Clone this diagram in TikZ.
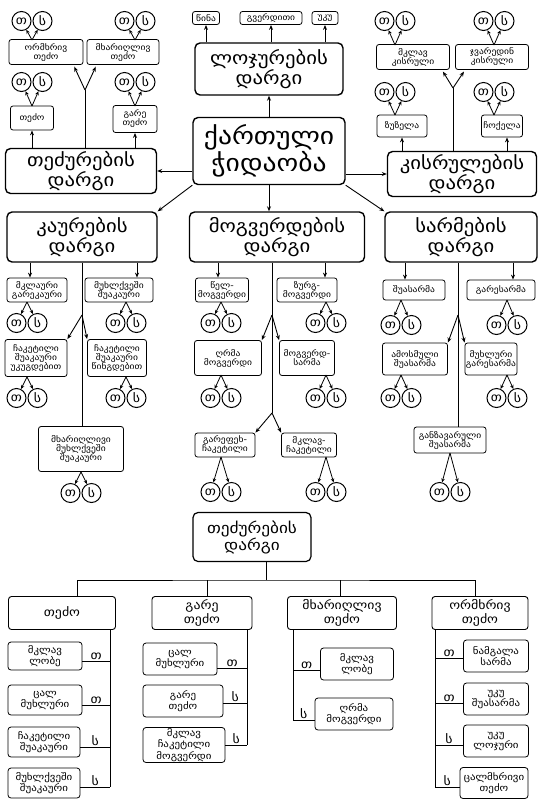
\documentclass[tikz,border=0pt]{standalone}
\usepackage{fontspec}
\setmainfont{DejaVu Sans}[FakeStretch=1.15]
\usetikzlibrary{arrows.meta}
\tikzset{
  dargi/.style={draw, line width=1.4pt, rounded corners=5pt, align=center,
    inner sep=0pt, font=\fontsize{18}{19.5}\selectfont},
  ilet/.style={draw, line width=0.8pt, rounded corners=2.5pt, align=center,
    inner sep=0pt, font=\fontsize{8.3}{9}\selectfont},
  nishani/.style={circle, draw, line width=1pt, minimum size=19pt,
    inner sep=0pt, font=\fontsize{12}{12}\selectfont},
  sveti/.style={draw, line width=0.9pt, rounded corners=3pt, align=center,
    inner sep=0pt, font=\fontsize{12}{12.5}\selectfont},
  qveda/.style={draw, line width=0.8pt, rounded corners=3pt, align=center,
    inner sep=0pt, font=\fontsize{9.5}{10}\selectfont},
  aso/.style={font=\fontsize{12}{12}\selectfont, inner sep=1pt}
}
\begin{document}
\begin{tikzpicture}[x=1pt, y=-1pt, line width=0.9pt,
    >={Stealth[length=5pt,width=4pt]}]
  \useasboundingbox (0,0) rectangle (541,807);
  \node[dargi, minimum width=152, minimum height=67,
    font=\fontsize{24}{27}\selectfont] (kartuli) at (269,151) {ქართული\\ჭიდაობა};
  \node[dargi, minimum width=148, minimum height=52] (lojur) at (269,69) {ლოჯურების\\დარგი};
  \node[dargi, minimum width=151, minimum height=45] (tedzur) at (81,171) {თეძურების\\დარგი};
  \node[dargi, minimum width=149, minimum height=45] (kisrul) at (462,174) {კისრულების\\დარგი};
  \node[dargi, minimum width=150, minimum height=50] (kaur) at (82,237) {კაურების\\დარგი};
  \node[dargi, minimum width=175, minimum height=50] (mogv) at (277,237) {მოგვერდების\\დარგი};
  \node[dargi, minimum width=152, minimum height=50] (sarm) at (461,237) {სარმების\\დარგი};

  \node[ilet, minimum width=27, minimum height=13] (wina) at (206,18) {წინა};
  \node[ilet, minimum width=62, minimum height=13] (gverd) at (271,18) {გვერდითი};
  \node[ilet, minimum width=26, minimum height=13] (uku) at (325,18) {უკუ};

  \node[ilet, minimum width=74, minimum height=25] (ormx) at (46,52) {ორმხრივ\\თეძო};
  \node[ilet, minimum width=72, minimum height=25] (mxar) at (123,52) {მხარიღლივ\\თეძო};
  \node[ilet, minimum width=43, minimum height=24] (tedzo) at (32,118) {თეძო};
  \node[ilet, minimum width=44, minimum height=27] (garet) at (135,119) {გარე\\თეძო};

  \node[ilet, minimum width=73, minimum height=25] (mklavk) at (413,57) {მკლავ\\კისრული};
  \node[ilet, minimum width=73, minimum height=25] (jvar) at (492,57) {ჯვარედინ\\კისრული};
  \node[ilet, minimum width=50, minimum height=22] (zuz) at (402,126) {ზუზელა};
  \node[ilet, minimum width=41, minimum height=22] (choq) at (502,126) {ჩოქელა};

  \node[ilet, minimum width=60, minimum height=24] (mklaur) at (37,290) {მკლაური\\გარეკაური};
  \node[ilet, minimum width=68, minimum height=24] (muxlk) at (119,290) {მუხლქვეში\\შუაკაური};
  \node[ilet, minimum width=62, minimum height=37] (chaku) at (36,358) {ჩაკეტილი\\შუაკაური\\უკუგდებით};
  \node[ilet, minimum width=59, minimum height=37] (chakw) at (117,358) {ჩაკეტილი\\შუაკაური\\წინგდებით};
  \node[ilet, minimum width=85, minimum height=45] (mxarm) at (81,449) {მხარიღლივი\\მუხლქვეში\\შუაკაური};

  \node[ilet, minimum width=53, minimum height=24] (welm) at (222,290) {წელ-\\მოგვერდი};
  \node[ilet, minimum width=60, minimum height=24] (zurgm) at (307,290) {ზურგ-\\მოგვერდი};
  \node[ilet, minimum width=67, minimum height=35] (ghrm) at (228,358) {ღრმა\\მოგვერდი};
  \node[ilet, minimum width=55, minimum height=35] (mogs) at (307,358) {მოგვერდ-\\სარმა};
  \node[ilet, minimum width=60, minimum height=24] (garef) at (225,445) {გარეფეხ-\\ჩაკეტილი};
  \node[ilet, minimum width=55, minimum height=24] (mklch) at (309,445) {მკლავ-\\ჩაკეტილი};

  \node[ilet, minimum width=62, minimum height=20] (shuas) at (414,290) {შუასარმა};
  \node[ilet, minimum width=68, minimum height=20] (gares) at (501,290) {გარესარმა};
  \node[ilet, minimum width=65, minimum height=32] (amos) at (415,359) {ამოსმული\\შუასარმა};
  \node[ilet, minimum width=52, minimum height=32] (muxls) at (491,359) {მუხლური\\გარესარმა};
  \node[ilet, minimum width=72, minimum height=26] (ganz) at (450,440) {განზავარული\\შუასარმა};

  \coordinate (fkA) at (85,90);
  \coordinate (fkB) at (453,88);
  \coordinate (kx) at (82,315);
  \coordinate (mx1) at (272,315);
  \coordinate (mx2) at (272,413);
  \coordinate (sx) at (458,315);

  \begin{scope}[->]
    \draw (kartuli.north) -- (lojur.south);
    \draw (kartuli.west |- tedzur) -- (tedzur.east);
    \draw (kartuli.east |- kisrul) -- (kisrul.west);
    \draw (kartuli.south) -- (kartuli.south |- mogv.north);
    \draw (kartuli.south west) -- (kaur.north east);
    \draw (kartuli.south east) -- (sarm.north west);
    \draw (lojur.north -| wina) -- (wina);
    \draw (lojur.north -| gverd) -- (gverd);
    \draw (lojur.north -| uku) -- (uku);
    \draw (tedzur.north -| tedzo) -- (tedzo);
    \draw (tedzur.north -| garet) -- (garet);
    \draw (kisrul.north -| zuz) -- (zuz);
    \draw (kisrul.north -| 507,0) -- (choq.south -| 507,0);
    \draw (kaur.south -| 30,0) -- (mklaur.north -| 30,0);
    \draw (kaur.south -| 137,0) -- (muxlk.north -| 137,0);
    \draw (mogv.south -| 218,0) -- (welm.north -| 218,0);
    \draw (mogv.south -| 325,0) -- (zurgm.north -| 325,0);
    \draw (sarm.south -| 405,0) -- (shuas.north -| 405,0);
    \draw (sarm.south -| 513,0) -- (gares.north -| 513,0);
  \end{scope}

  \draw (fkA |- tedzur.north) -- (fkA);
  \draw[->, shorten >=2pt] (fkA) -- ([xshift=-10pt]ormx.south east);
  \draw[->, shorten >=2pt] (fkA) -- ([xshift=10pt]mxar.south west);
  \draw (fkB |- kisrul.north) -- (fkB);
  \draw[->, shorten >=2pt] (fkB) -- ([xshift=-8pt]mklavk.south east);
  \draw[->, shorten >=2pt] (fkB) -- ([xshift=10pt]jvar.south west);

  \draw (kx |- kaur.south) -- (kx |- mxarm.north);
  \draw[->] (kx) -- (chaku.north east);
  \draw[->] (kx) -- (chakw.north west);
  \draw (mx1 |- mogv.south) -- (mx2);
  \draw[->] (mx1) -- (ghrm.north east);
  \draw[->] (mx1) -- (mogs.north west);
  \draw[->] (mx2) -- (garef.north east);
  \draw[->] (mx2) -- (mklch.north west);
  \draw (sx |- sarm.south) -- (sx |- ganz.north);
  \draw[->] (sx) -- (amos.north east);
  \draw[->] (sx) -- (muxls.north west);

  \foreach \n/\x/\y/\r in {a1/32/21/40, a2/135/21/40, a3/32/82/106, a4/135/82/106,
      b1/395/21/45, b2/494/21/45, b3/395/92/115, b4/494/92/115,
      c1/27/323/302, c2/126/323/302, c3/27/398/377, c4/126/398/377, c5/81/493/472,
      d1/221/323/302, d2/326/323/302, d3/221/398/375, d4/326/398/375,
      d5/221/492/457, d6/326/492/457,
      e1/401/325/300, e2/507/325/300, e3/401/398/375, e4/507/398/375, e5/450/492/453}{
    \node[nishani] (\n-t) at ({\x-10.5},\y) {თ};
    \node[nishani] (\n-s) at ({\x+10.5},\y) {ს};
    \coordinate (\n-v) at (\x,\r);
    \draw[-{Stealth[length=4pt,width=3.5pt]}, line width=0.8pt] (\n-v) -- (\n-t);
    \draw[-{Stealth[length=4pt,width=3.5pt]}, line width=0.8pt] (\n-v) -- (\n-s);
  }

  \node[dargi, minimum width=118, minimum height=49, line width=1.2pt,
    font=\fontsize{15}{16}\selectfont] (tedzur2) at (252,537) {თეძურების\\დარგი};
  \node[sveti, minimum width=107, minimum height=33] (p1) at (62,613) {თეძო};
  \node[sveti, minimum width=100, minimum height=33] (p2) at (202,613) {გარე\\თეძო};
  \node[sveti, minimum width=109, minimum height=33] (p3) at (342,613) {მხარიღლივ\\თეძო};
  \node[sveti, minimum width=96, minimum height=33] (p4) at (480,613) {ორმხრივ\\თეძო};
  \coordinate (bus) at (266,580);
  \draw (tedzur2.south -| bus) -- (bus);
  \draw (p1.north -| 77,0) |- (bus) -| (p4.north -| 475,0);
  \draw (bus -| 207,0) -- (p2.north -| 207,0);
  \draw (bus -| 340,0) -- (p3.north -| 340,0);

  \node[qveda, minimum width=74, minimum height=28] (q1) at (45,656) {მკლავ\\ლობე};
  \node[qveda, minimum width=74, minimum height=30] (q2) at (45,700) {ცალ\\მუხლური};
  \node[qveda, minimum width=72, minimum height=30] (q3) at (44,742) {ჩაკეტილი\\შუაკაური};
  \node[qveda, minimum width=72, minimum height=30] (q4) at (44,783) {მუხლქვეში\\შუაკაური};
  \coordinate (s1) at (110,630);
  \draw (s1) -- (s1 |- 0,787);
  \draw (q1.east |- 0,661) -- node[aso, above]{თ} (s1 |- 0,661);
  \draw (q2.east |- 0,705) -- node[aso, above]{თ} (s1 |- 0,705);
  \draw (q3.east |- 0,747) -- node[aso, above]{ს} (s1 |- 0,747);
  \draw (q4.east |- 0,787) -- node[aso, above]{ს} (s1 |- 0,787);

  \node[qveda, minimum width=74, minimum height=32] (r1) at (180,659) {ცალ\\მუხლური};
  \node[qveda, minimum width=80, minimum height=32] (r2) at (183,701) {გარე\\თეძო};
  \node[qveda, minimum width=82, minimum height=35] (r3) at (184,745) {მკლავ\\ჩაკეტილი\\მოგვერდი};
  \coordinate (s2) at (247,630);
  \draw (s2) -- (s2 |- 0,745);
  \draw (r1.east |- 0,668) -- node[aso, above]{თ} (s2 |- 0,668);
  \draw (r2.east |- 0,703) -- node[aso, above]{ს} (s2 |- 0,703);
  \draw (r3.east |- 0,745) -- node[aso, above]{ს} (s2 |- 0,745);

  \node[qveda, minimum width=73, minimum height=32] (t1) at (357,664) {მკლავ\\ლობე};
  \node[qveda, minimum width=78, minimum height=32] (t2) at (354,714) {ღრმა\\მოგვერდი};
  \coordinate (s3) at (293,630);
  \draw (s3) -- (s3 |- 0,720);
  \draw (s3 |- 0,670) -- node[aso, above]{თ} (t1.west |- 0,670);
  \draw (s3 |- 0,720) -- node[aso, above]{ს} (t2.west |- 0,720);

  \node[qveda, minimum width=65, minimum height=32] (u1) at (496,656) {ნამგალა\\სარმა};
  \node[qveda, minimum width=65, minimum height=32] (u2) at (496,699) {უკუ\\შუასარმა};
  \node[qveda, minimum width=65, minimum height=32] (u3) at (496,741) {უკუ\\ლოჯური};
  \node[qveda, minimum width=68, minimum height=31] (u4) at (494,783) {ცალმხრივი\\თეძო};
  \coordinate (s4) at (435,630);
  \draw (s4) -- (s4 |- 0,787);
  \draw (s4 |- 0,658) -- node[aso, above]{თ} (u1.west |- 0,658);
  \draw (s4 |- 0,703) -- node[aso, above]{თ} (u2.west |- 0,703);
  \draw (s4 |- 0,745) -- node[aso, above]{ს} (u3.west |- 0,745);
  \draw (s4 |- 0,787) -- node[aso, above]{ს} (u4.west |- 0,787);
\end{tikzpicture}
\end{document}
